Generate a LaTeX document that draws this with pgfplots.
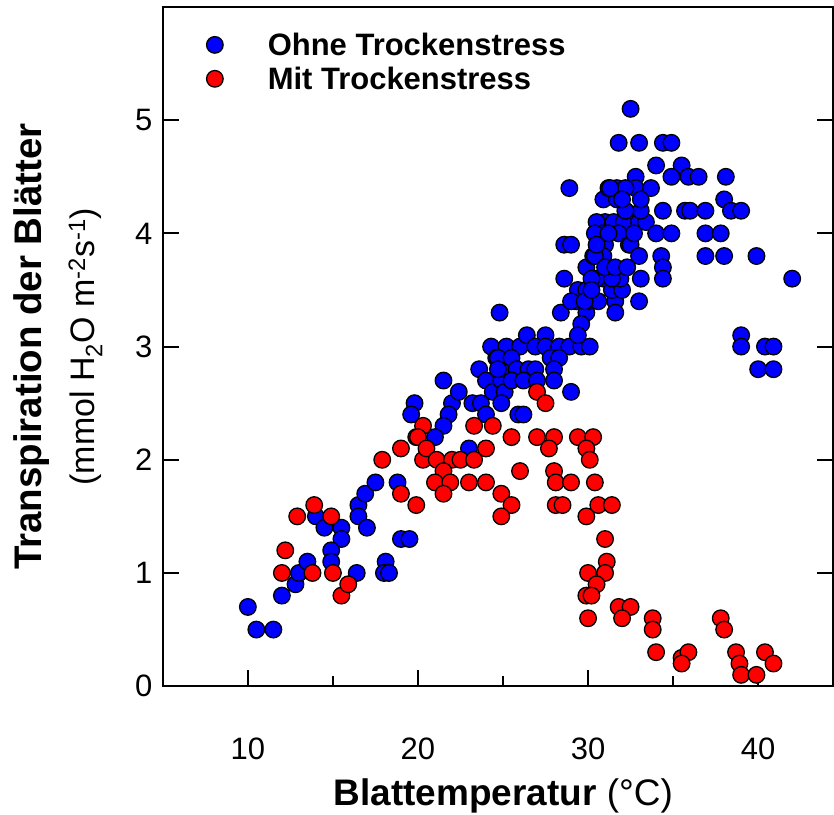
\documentclass[border=0pt]{standalone}
\usepackage{fontspec}
\setmainfont{Liberation Sans}
\usepackage{pgfplots}
\pgfplotsset{compat=1.18}
\begin{document}
\begin{tikzpicture}
\begin{axis}[name=ax, scale only axis, width=671pt, height=680pt,
  xmin=5, xmax=44.4, ymin=0, ymax=6,
  axis line style={line width=2pt},
  xtick={10,20,30,40}, minor xtick={15,25,35}, ytick={0,1,2,3,4,5},
  xtick pos=left,
  tick align=inside, major tick length=16pt, minor tick length=10pt,
  every tick/.style={line width=2pt, black},
  /pgf/number format/assume math mode=true,
  tick label style={font=\fontsize{31}{37}\selectfont},
  xticklabel style={yshift=-48pt},
  yticklabel style={xshift=-7pt},
  xlabel={\textbf{Blattemperatur} (°C)},
  xlabel style={font=\fontsize{37}{44}\selectfont, at={(axis description cs:0.508,0)}, anchor=base, yshift=-119pt},
  ylabel={{\fontsize{38.5}{41}\selectfont\bfseries Transpiration der Blätter}\\[12pt]{\fontsize{34}{41}\selectfont (mmol H\textsubscript{2}O m\textsuperscript{-2}s\textsuperscript{-1})}},
  ylabel style={align=center, font=\fontsize{34}{41}\selectfont, at={(axis description cs:-0.085,0.5)}, anchor=south, rotate=0},
  legend style={draw=none, fill=none, at={(axis description cs:0.058,0.968)}, anchor=north west,
    font=\fontsize{31}{37}\selectfont\bfseries, row sep=6pt},
  legend cell align=left,
  legend image code/.code={\draw[#1] plot coordinates {(0pt,0pt)}; \path[draw=none,fill=none] (-10pt,0pt) -- (51pt,0pt);},
]
\addplot[only marks, mark=*, mark size=8.3pt, mark options={draw=black, line width=1.3pt, fill=blue}] coordinates {
(10.0,0.7) (10.5,0.5) (11.5,0.5) (12.0,0.8) (12.8,0.9) (13.0,1.0) (13.5,1.1) (14.0,1.5)
(14.5,1.4) (15.5,1.4) (15.5,1.3) (14.9,1.2) (14.9,1.1) (16.5,1.6) (16.9,1.7) (17.5,1.8)
(16.5,1.5) (17.0,1.4) (16.4,1.0) (18.1,1.1) (18.0,1.0) (18.3,1.0) (18.8,1.8) (19.0,1.3)
(19.5,1.3) (19.8,2.5) (19.6,2.4) (21.5,2.7) (22.0,2.5) (22.4,2.6) (21.8,2.4) (21.5,2.3)
(21.0,2.2) (23.2,2.5) (23.7,2.5) (24.0,2.4) (23.6,2.8) (24.0,2.7) (24.4,2.6) (24.3,3.0)
(24.6,2.9) (24.9,2.8) (24.9,2.7) (25.1,2.6) (24.9,2.5) (23.0,2.1) (24.8,3.3) (25.2,3.0)
(26.0,3.0) (26.4,3.1) (27.5,3.1) (26.9,3.0) (27.5,3.0) (28.3,3.0) (28.9,3.0) (29.6,3.0)
(30.1,3.0) (24.7,2.9) (27.8,2.9) (28.3,2.9) (25.5,2.9) (24.7,2.8) (25.8,2.8) (26.5,2.8)
(26.9,2.8) (28.0,2.8) (25.5,2.7) (26.2,2.7) (27.0,2.7) (28.0,2.7) (29.0,2.6) (25.9,2.4)
(26.2,2.4) (28.4,3.3) (29.9,3.3) (29.3,3.4) (29.6,3.2) (30.0,3.4) (29.4,3.1) (28.6,3.9)
(29.0,3.9) (28.6,3.6) (28.9,4.4) (29.9,3.7) (30.3,3.8) (31.0,3.9) (30.9,3.8) (29.4,3.5)
(29.9,3.5) (29.0,3.4) (30.6,3.4) (31.6,3.4) (31.6,3.3) (30.9,3.6) (31.4,3.5) (32.0,3.5)
(31.9,3.6) (30.5,3.6) (30.2,3.6) (31.4,3.6) (31.0,4.1) (30.5,4.1) (31.5,4.1) (32.1,4.1)
(33.0,4.1) (33.4,4.1) (32.2,4.2) (33.1,4.2) (30.9,4.3) (31.7,4.3) (31.8,4.0) (32.4,3.9)
(30.8,4.0) (30.4,4.0) (32.5,3.9) (33.0,3.8) (33.1,3.6) (33.0,3.4) (34.0,4.0) (34.4,4.2)
(35.7,4.2) (34.9,4.0) (34.3,3.8) (34.4,3.7) (34.4,3.6) (32.5,5.1) (31.8,4.8) (33.0,4.8)
(34.4,4.8) (34.9,4.8) (34.0,4.6) (35.5,4.6) (34.9,4.5) (35.9,4.5) (36.5,4.5) (38.1,4.5)
(31.2,4.4) (31.7,4.4) (32.8,4.5) (32.8,4.4) (33.7,4.4) (32.2,4.4) (31.3,4.4) (32.2,4.2)
(33.1,4.3) (36.0,4.2) (36.9,4.2) (38.0,4.3) (38.4,4.2) (39.0,4.2) (36.9,4.0) (37.8,4.0)
(36.9,3.8) (38.0,3.8) (39.9,3.8) (42.0,3.6) (39.0,3.1) (39.0,3.0) (40.4,3.0) (40.9,3.0)
(40.0,2.8) (40.9,2.8) (29.8,3.4) (30.2,3.5) (30.4,3.8) (32.0,4.3) (30.5,3.9) (31.0,3.7)
(31.6,3.7) (32.3,3.7) (31.2,4.0) (32.7,4.0)
};
\addlegendentry{Ohne Trockenstress}
\addplot[only marks, mark=*, mark size=8.3pt, mark options={draw=black, line width=1.3pt, fill=red}] coordinates {
(12.0,1.0) (12.2,1.2) (12.9,1.5) (13.8,1.0) (13.9,1.6) (14.9,1.5) (15.0,1.0) (15.5,0.8)
(15.9,0.9) (17.9,2.0) (19.0,2.1) (19.0,1.7) (19.9,1.6) (20.3,2.0) (19.9,2.2) (20.3,2.3)
(20.0,2.2) (20.5,2.1) (21.1,2.0) (22.0,2.0) (22.5,2.0) (23.3,2.0) (24.0,2.1) (23.3,2.3)
(24.4,2.3) (21.5,1.9) (21.0,1.8) (21.9,1.8) (21.5,1.7) (23.0,1.8) (24.0,1.8) (24.9,1.7)
(25.5,1.6) (24.9,1.5) (25.5,2.2) (27.0,2.6) (27.5,2.5) (27.0,2.2) (28.0,2.2) (29.4,2.2)
(30.3,2.2) (27.7,2.1) (29.9,2.1) (30.1,2.0) (26.0,1.9) (28.0,1.9) (28.1,1.8) (29.0,1.8)
(30.4,1.8) (28.1,1.6) (28.5,1.6) (29.9,1.5) (30.6,1.6) (31.4,1.6) (31.0,1.3) (31.1,1.1)
(31.0,1.0) (30.0,1.0) (30.5,0.9) (29.9,0.8) (30.2,0.8) (30.0,0.6) (31.8,0.7) (32.5,0.7)
(32.0,0.6) (33.8,0.6) (33.8,0.5) (34.0,0.3) (35.5,0.25) (35.9,0.3) (35.5,0.2) (37.8,0.6)
(38.0,0.5) (38.7,0.3) (38.9,0.2) (39.0,0.1) (39.9,0.1) (40.4,0.3) (40.9,0.2)
};
\addlegendentry{Mit Trockenstress}
\end{axis}
\pgfresetboundingbox
\path[use as bounding box] ([xshift=-163pt,yshift=-128pt]ax.south west) rectangle ([xshift=1pt,yshift=7pt]ax.north east);
\end{tikzpicture}
\end{document}
